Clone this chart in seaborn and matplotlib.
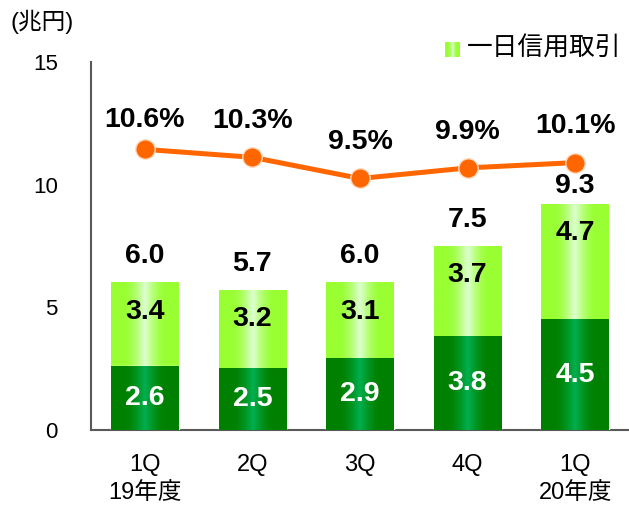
import numpy as np
import matplotlib
matplotlib.use("Agg")
import matplotlib.pyplot as plt
import seaborn as sns
from matplotlib.colors import to_rgb

# ---- data ----
quarters = ["1Q\n19年度", "2Q", "3Q", "4Q", "1Q\n20年度"]
lower = [2.6, 2.5, 2.9, 3.8, 4.5]
upper = [3.4, 3.2, 3.1, 3.7, 4.7]
totals = [6.0, 5.7, 6.0, 7.5, 9.3]
ratio = [10.6, 10.3, 9.5, 9.9, 10.1]
y_ticks = [0, 5, 10, 15]
legend_label = "一日信用取引"
y_unit = "(兆円)"

sns.set_theme(style="white")
plt.rcParams["font.family"] = ["Liberation Sans", "Noto Sans CJK JP"]

W, H = 629, 508
fig = plt.figure(figsize=(W / 100, H / 100), dpi=100)
ax = fig.add_axes([91 / W, 78 / H, 538 / W, 368 / H])

pos = np.arange(len(quarters))
stack = np.add(lower, upper)

sns.barplot(x=pos, y=stack, ax=ax, width=0.63, color="#99FF33",
            native_scale=True, saturation=1, zorder=1)
sns.barplot(x=pos, y=lower, ax=ax, width=0.63, color="#008000",
            native_scale=True, saturation=1, zorder=3)


def gradient(edge, center, n=256):
    t = np.linspace(-1, 1, n)
    w = np.clip(1 - np.abs(t) / 0.6, 0, 1) ** 1.6
    e, c = np.array(to_rgb(edge)), np.array(to_rgb(center))
    return (e[None, :] * (1 - w[:, None]) + c[None, :] * w[:, None])[None, :, :]


g_up = gradient("#99FF33", "#DDFFD2")
g_lo = gradient("#008000", "#00B050")
patches = list(ax.patches)
n = len(quarters)
for k, p in enumerate(patches):
    x0, y0, w, h = p.get_x(), p.get_y(), p.get_width(), p.get_height()
    img = g_up if k < n else g_lo
    z = 1.5 if k < n else 3.5
    ax.imshow(img, extent=[x0, x0 + w, y0, y0 + h], aspect="auto",
              zorder=z, interpolation="bilinear")

ax.set_xlim(-0.5, n - 0.5)
ax.set_ylim(0, 15)

LBL = 20.5
# labels on bars
for i in range(n):
    ax.annotate(f"{upper[i]:.1f}", (pos[i], stack[i]), xytext=(0, -21),
                textcoords="offset points", ha="center", va="center",
                fontsize=LBL, fontweight="bold", color="black", zorder=6)
    ax.annotate(f"{lower[i]:.1f}", (pos[i], lower[i] / 2), ha="center",
                va="center", fontsize=LBL, fontweight="bold", color="white",
                zorder=6)
    off = 13 if i == n - 1 else 19
    ax.annotate(f"{totals[i]:.1f}", (pos[i], stack[i]), xytext=(0, off),
                textcoords="offset points", ha="center", va="center",
                fontsize=LBL, fontweight="bold", color="black", zorder=6)

# axes styling
ax.set_xticks(pos)
ax.set_xticklabels(quarters, fontsize=17, color="black", linespacing=1.4)
ax.set_yticks(y_ticks)
ax.set_yticklabels([str(v) for v in y_ticks], fontsize=16, color="black")
ax.tick_params(axis="x", length=0, pad=17)
ax.tick_params(axis="y", length=0, pad=24)
for s in ["top", "right"]:
    ax.spines[s].set_visible(False)
for s in ["left", "bottom"]:
    ax.spines[s].set_color("#595959")
    ax.spines[s].set_linewidth(1.5)
ax.set_xlabel("")
ax.set_ylabel("")

# line on secondary axis
ax2 = ax.twinx()
sns.lineplot(x=pos, y=ratio, ax=ax2, color="#FF6600", linewidth=3.6,
             marker="o", markersize=14, markeredgecolor="#FFD9BF",
             markeredgewidth=1, zorder=5)
ax2.set_ylim(0, 13.9)
ax2.set_xlim(-0.5, n - 0.5)
ax2.set_yticks([])
ax2.set_ylabel("")
for s in ax2.spines.values():
    s.set_visible(False)
for i in range(n):
    off = 21 if i == 0 else 26
    ax2.annotate(f"{ratio[i]:.1f}%", (pos[i], ratio[i]), xytext=(0, off),
                 textcoords="offset points", ha="center", va="center",
                 fontsize=LBL, fontweight="bold", color="black")

# unit label
fig.text(11 / W, 1 - 22 / H, y_unit, fontsize=17, va="center", ha="left",
         color="black")

# legend
lax = fig.add_axes([445 / W, 1 - 57 / H, 15 / W, 15 / H])
lax.imshow(g_up, aspect="auto", interpolation="bilinear")
lax.axis("off")
fig.text(467 / W, 1 - 49 / H, legend_label, fontsize=18.5, va="center",
         ha="left", color="black")

fig.savefig("out.png", dpi=100)
